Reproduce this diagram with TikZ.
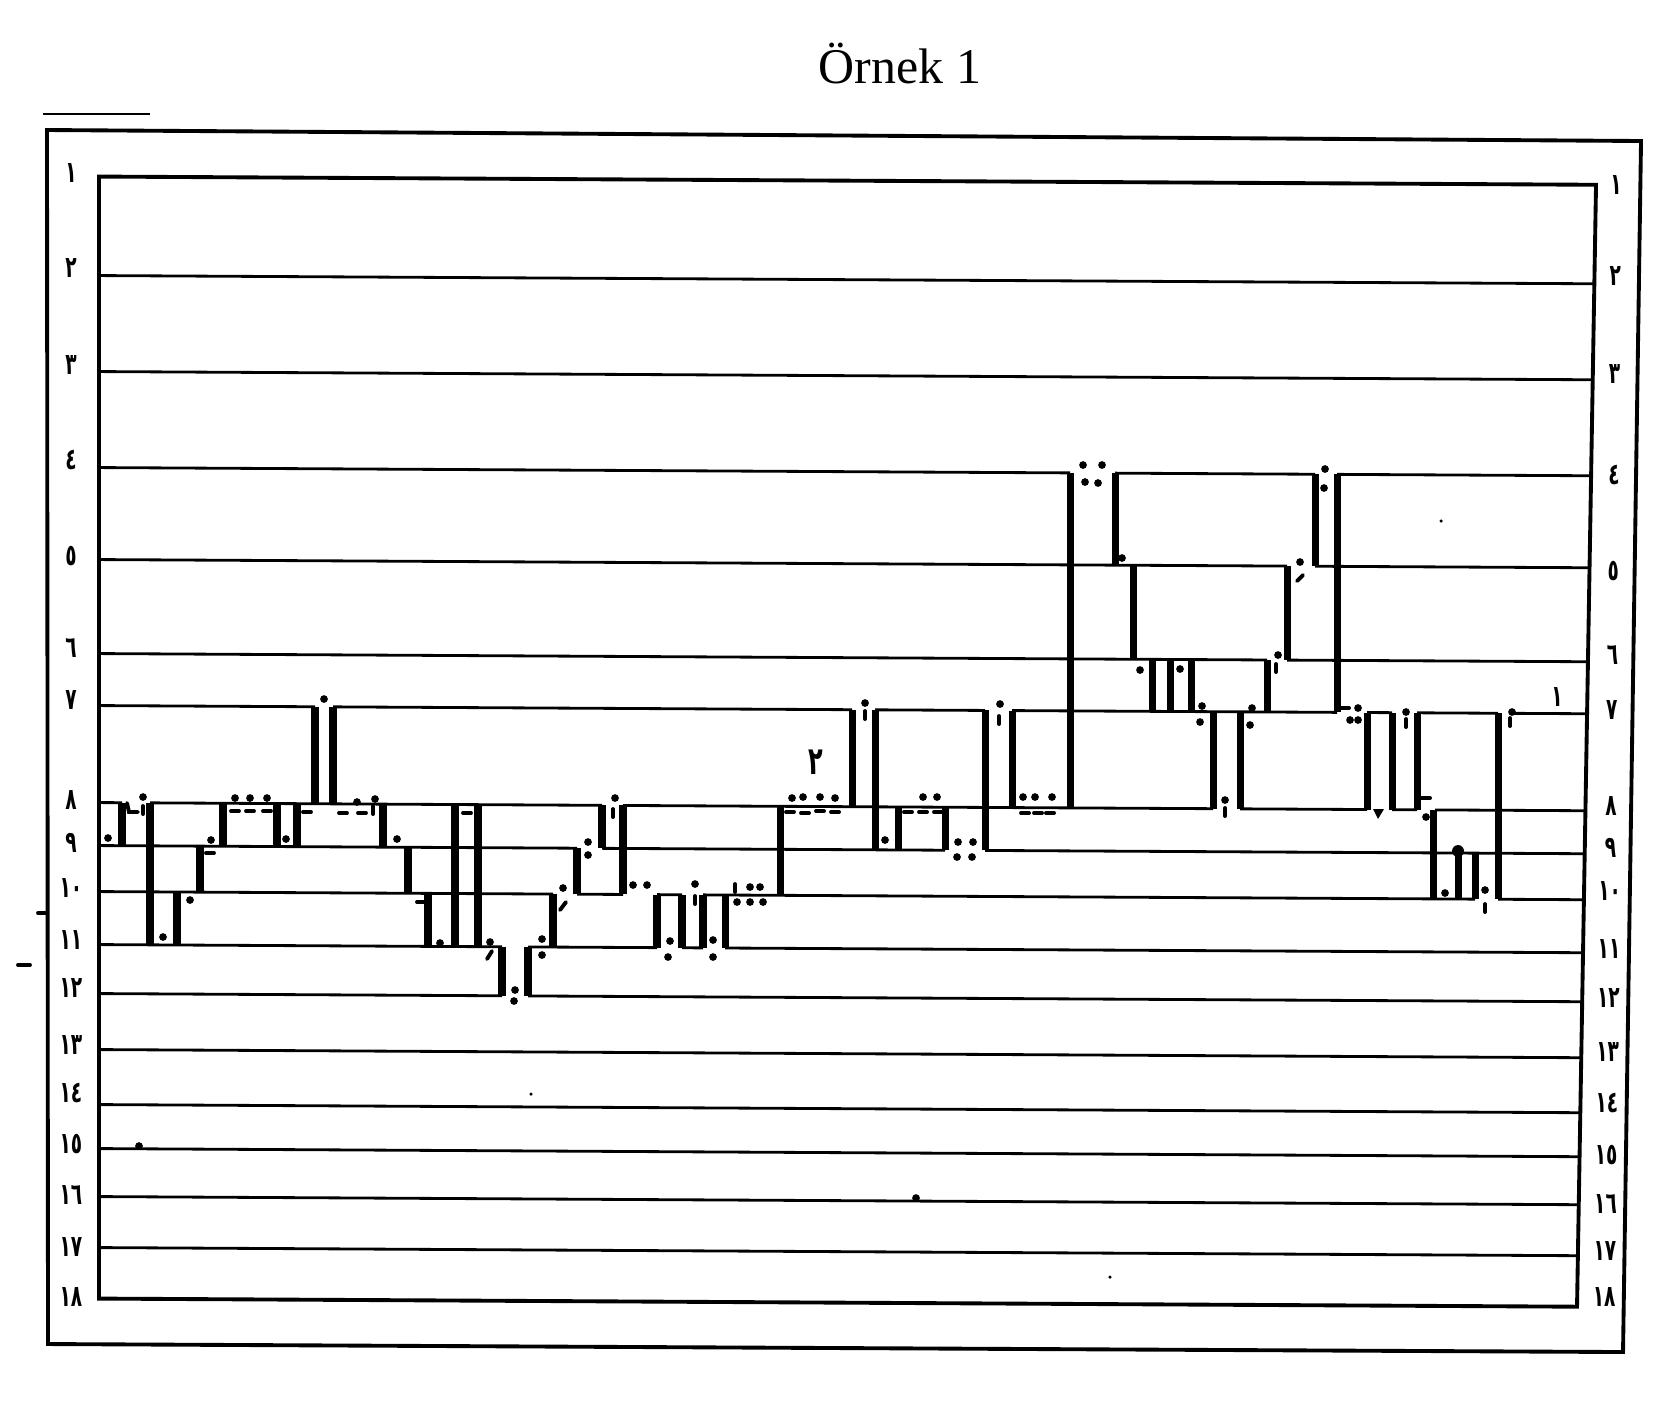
\documentclass[tikz,border=0pt]{standalone}
\usepackage{fontspec}
\setmainfont{Liberation Serif}
\newfontfamily\arabicfont[Script=Arabic]{DejaVu Sans}
\usetikzlibrary{calc}

\begin{document}
\begin{tikzpicture}[x=0.01cm,y=-0.01cm,
    frameline/.style={line width=1.1pt},
    rowline/.style={line width=0.8pt},
    wallbar/.style={line width=2pt},
    inkmark/.style={line width=1.1pt,line cap=round},
    numlabel/.style={font=\arabicfont\bfseries\fontsize{8.5}{10}\selectfont,
      inner sep=0pt,xscale=0.62,transform shape}]

    \useasboundingbox (0,0) rectangle (1674,1408);

    % Title
    \node[font=\fontsize{14.2}{17}\selectfont] (title) at (900,64) {Örnek 1};

    % Outer frame and short rule above it
    \draw[line width=0.8pt] (43,114) -- (150,114);
    \draw[frameline] (47,130) -- (1641,141) -- (1623,1352) -- (48,1344) -- cycle;
    \draw[inkmark] (38,913) -- (47,913);
    \draw[inkmark] (18,965) -- (30,965);

    % Line numbers, left and right
    \foreach \i/\t/\yl/\yr in {1/١/173/185, 2/٢/268/276, 3/٣/365/374, 4/٤/460/475,
        5/٥/556/571, 6/٦/648/655, 7/٧/700/710, 8/٨/800/806, 9/٩/843/848,
        10/١٠/888/891, 11/١١/940/949, 12/١٢/988/998, 13/١٣/1045/1052,
        14/١٤/1093/1103, 15/١٥/1144/1155, 16/١٦/1195/1204, 17/١٧/1247/1251,
        18/١٨/1297/1297} {
      \node[numlabel] (lnum\i) at (71,\yl) {\t};
      \node[numlabel] (rnum\i) at ({1616-0.7*(\i-1)},\yr) {\t};
    }

    % Grid (the scan runs slightly downhill)
    \begin{scope}[yslant=-0.0055]
      % inner frame
      \draw[frameline] (99,176) -- (1596,176) -- (1577,1298) -- (99,1298) -- cycle;

      % unbroken lines
      \foreach \y/\r in {275/1594.3, 371/1592.7, 1049/1581.2, 1104/1580.3,
          1148/1579.5, 1196/1578.7, 1247/1577.9}
        \draw[rowline] (99,\y) -- (\r,\y);

      % broken lines
      \foreach \y/\a/\b in {467/99/1070, 467/1115/1315, 467/1337/1591.1,
          559/99/1287, 559/1315/1589.5,
          653/99/1267, 653/1287/1587.9,
          705/99/315, 705/333/852, 705/875/985, 705/1012/1337, 705/1367/1392,
          705/1417/1498, 705/1513/1587,
          802/99/122, 802/150/602, 802/623/1213, 802/1240/1367, 802/1392/1417,
          802/1435/1585.4,
          845/99/577, 845/602/945, 845/985/1584.7,
          891/99/553, 891/577/623, 891/657/682, 891/703/1475, 891/1498/1583.9,
          944/99/502, 944/528/657, 944/682/703, 944/725/1583,
          993/99/502, 993/528/1582.2}
        \draw[rowline] (\a,\y) -- (\b,\y);

      % thick uprights
      \foreach \x/\a/\b in {122/802/845, 150/802/944, 177/891/944, 200/845/891,
          223/802/845, 277/802/845, 297/802/845, 315/705/802, 333/705/802,
          383/802/845, 408/845/891, 428/891/944, 455/802/944, 478/802/944,
          502/944/993, 528/944/993, 553/891/944, 577/845/891, 602/802/845,
          623/802/891, 657/891/944, 682/891/944, 703/891/944, 725/891/944,
          780/802/891, 852/705/802, 875/705/845, 898/802/845, 945/802/845,
          985/705/845, 1012/705/802, 1070/467/802, 1115/467/559, 1133/559/653,
          1152/653/705, 1170/653/705, 1191/653/705, 1213/705/802, 1240/705/802,
          1267/653/705, 1287/559/653, 1315/467/559, 1337/467/705, 1367/705/802,
          1392/705/802, 1417/705/802, 1433/802/891, 1458/845/891, 1475/845/891,
          1498/705/891}
        \draw[wallbar] (\x,\a) -- (\x,\b);
    \end{scope}

    % Dots
    \foreach \p in {(108,838), (143,797), (211,840), (235,798), (250,798), (267,798),
        (286,839), (324,699), (357,802), (375,799), (397,839), (163,937), (190,900),
        (440,943), (615,798), (588,842), (588,855), (563,888), (633,885), (647,885),
        (695,884), (713,940), (713,957), (670,941), (668,957), (750,887), (760,887),
        (737,902), (750,902), (763,902), (792,798), (803,797), (820,797), (835,798),
        (490,942), (542,939), (542,955), (515,990), (514,1001), (865,703), (1000,704),
        (885,840), (923,797), (937,797), (958,842), (973,842), (957,857), (972,857),
        (1023,797), (1035,797), (1052,797), (1083,465), (1102,465), (1085,482),
        (1098,483), (1122,558), (1325,469), (1324,488), (1300,562), (1140,670),
        (1180,669), (1202,706), (1252,708), (1278,655), (1200,722), (1250,725),
        (1358,708), (1350,720), (1358,720), (1406,712), (1426,817), (1445,893),
        (1485,890), (1225,800), (1512,712), (139,1146), (916,1198)}
      \fill \p circle (1.1pt);
    \foreach \p in {(1441,521), (531,1094), (1110,1277)}
      \fill \p circle (0.5pt);
    \fill (1458,851) circle (1.7pt);
    \fill (1373,809) -- (1384,809) -- (1378,819) -- cycle;

    % Short upright strokes
    \foreach \x/\y in {613/813, 695/900, 735/888, 865/715, 999/720, 1225/812,
        1406/723, 1485/908, 373/810, 1276/668, 1510/722, 143/810}
      \draw[inkmark] (\x,\y-4) -- (\x,\y+4);

    % Short flat strokes
    \foreach \x/\y in {235/811, 250/811, 267/811, 307/812, 343/813, 362/813,
        467/813, 210/853, 790/812, 805/813, 820/811, 835/812, 908/812, 923/812,
        1025/813, 1038/813, 1050/813}
      \draw[inkmark] (\x-4,\y) -- (\x+4,\y);

    % Hooks on the uprights
    \draw[inkmark] (417,902) -- (428,902);
    \draw[inkmark] (1338,708) -- (1349,708);
    \draw[inkmark] (1418,798) -- (1430,798);
    \draw[inkmark] (934,812) -- (945,812);
    \draw[inkmark] (127,803) -- (129,812) -- (138,812);
    \draw[inkmark] (566,902) -- (560,910);
    \draw[inkmark] (492,951) -- (487,959);
    \draw[inkmark] (1303,575) -- (1297,581);

    % Numbers in the grid
    \node[numlabel,font=\arabicfont\bfseries\fontsize{11}{12}\selectfont] (mark2) at (816,762) {٢};
    \node[numlabel] (mark1) at (1557,697) {١};

\end{tikzpicture}
\end{document}
